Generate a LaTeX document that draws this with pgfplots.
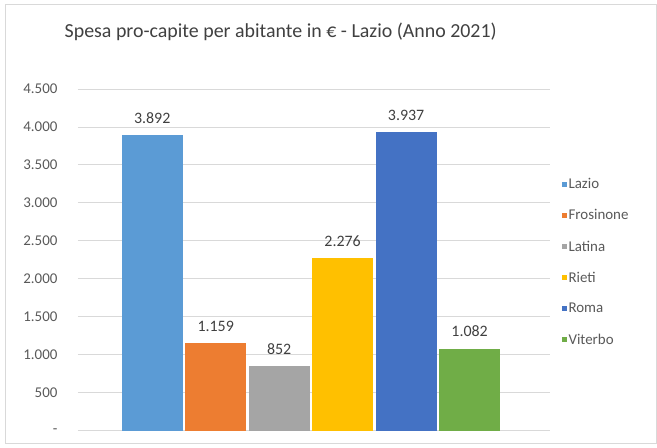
\documentclass[border=0pt]{standalone}
\usepackage{fontspec}
\setmainfont{Carlito}
\usepackage{pgfplots}
\pgfplotsset{compat=1.18}
\definecolor{cLazio}{HTML}{5B9BD5}
\definecolor{cFros}{HTML}{ED7D31}
\definecolor{cLat}{HTML}{A5A5A5}
\definecolor{cRieti}{HTML}{FFC000}
\definecolor{cRoma}{HTML}{4472C4}
\definecolor{cVit}{HTML}{70AD47}
\definecolor{txt}{HTML}{595959}
\definecolor{gridc}{HTML}{D9D9D9}
\begin{document}
\begin{tikzpicture}
  \begin{axis}[
    at={(0,0)}, anchor=south west,
    scale only axis,
    width=472bp, height=342bp,
    ybar, bar width=61bp,
    xmin=-1.17, xmax=6.26,
    ymin=0, ymax=4500,
    xtick=\empty,
    ytick={0,500,...,4500},
    yticklabels={-,500,1.000,1.500,2.000,2.500,3.000,3.500,4.000,4.500},
    yticklabel style={font=\fontsize{15}{17}\selectfont, text=txt, xshift=-17bp},
    major tick length=0pt,
    axis line style={draw=none},
    ymajorgrids, grid style={gridc, line width=0.8pt},
    nodes near coords,
    /pgf/number format/.cd, 1000 sep={.}, assume math mode=true,
    /pgfplots/.cd,
    every node near coord/.append style={font=\fontsize{16}{18}\selectfont, text=black!75, yshift=8bp},
    title={Spesa pro-capite per abitante in € - Lazio (Anno 2021)},
    title style={at={(rel axis cs:0.43,1)}, anchor=base, yshift=45bp, font=\fontsize{20}{24}\selectfont, text=black!75},
    legend style={at={(1.025,0.745)}, anchor=north west, draw=none, fill=none,
      font=\fontsize{15}{17}\selectfont, text=txt, row sep=15.5bp, inner sep=0pt},
    legend cell align=left,
    legend image code/.code={\fill[#1] (0bp,-2.5bp) rectangle (5bp,2.5bp);},
    mybar/.style={fill=#1, draw=none, bar shift=0pt},
  ]
    \addplot[mybar=cLazio] coordinates {(0,3892)};
    \addlegendentry{Lazio}
    \addplot[mybar=cFros] coordinates {(1,1159)};
    \addlegendentry{Frosinone}
    \addplot[mybar=cLat] coordinates {(2,852)};
    \addlegendentry{Latina}
    \addplot[mybar=cRieti] coordinates {(3,2276)};
    \addlegendentry{Rieti}
    \addplot[mybar=cRoma] coordinates {(4,3937)};
    \addlegendentry{Roma}
    \addplot[mybar=cVit] coordinates {(5,1082)};
    \addlegendentry{Viterbo}
  \end{axis}
  \draw[black!15, line width=1pt] (-72bp,-13bp) rectangle (579bp,426bp);
  \useasboundingbox (-78bp,-17bp) rectangle (579bp,431bp);
\end{tikzpicture}
\end{document}
